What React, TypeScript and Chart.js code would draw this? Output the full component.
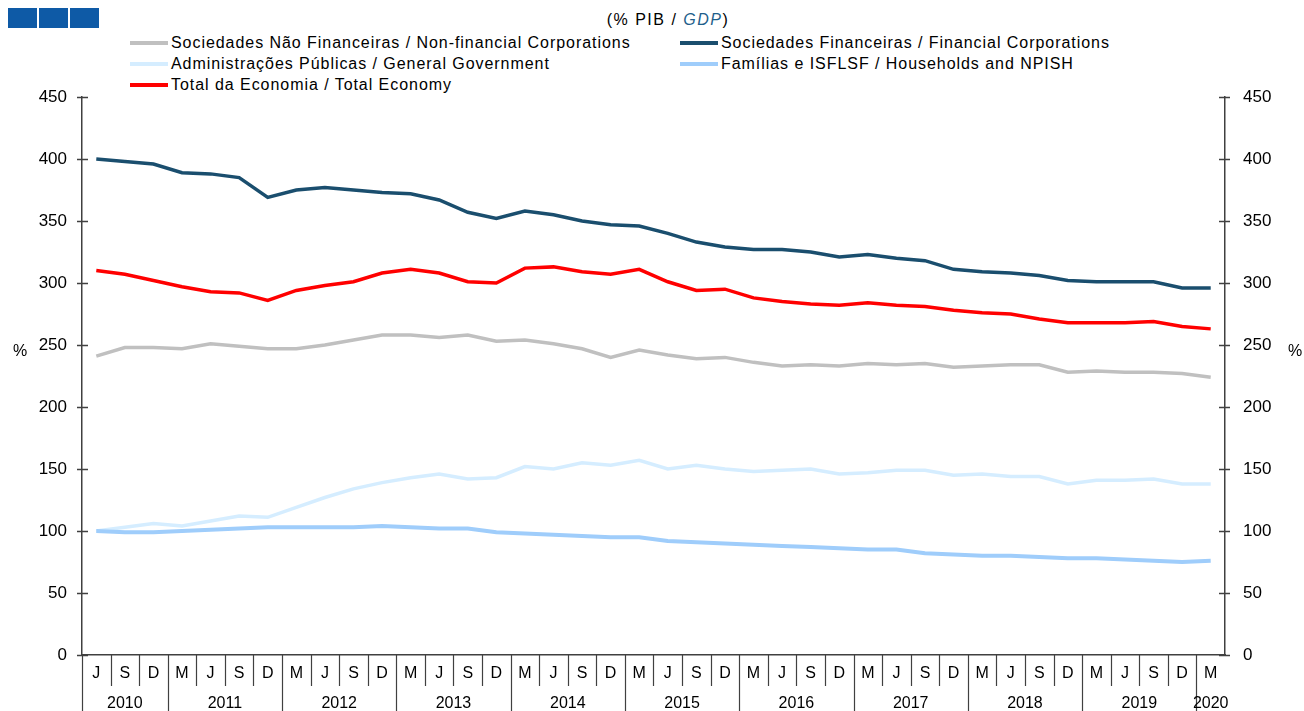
import React, { useEffect, useRef } from "react";
import { Chart, registerables } from "chart.js";

Chart.register(...registerables);

const categories = [
  "J", "S", "D",
  "M", "J", "S", "D",
  "M", "J", "S", "D",
  "M", "J", "S", "D",
  "M", "J", "S", "D",
  "M", "J", "S", "D",
  "M", "J", "S", "D",
  "M", "J", "S", "D",
  "M", "J", "S", "D",
  "M", "J", "S", "D",
  "M",
];

const yearLabels = ["2010", "2011", "2012", "2013", "2014", "2015", "2016", "2017", "2018", "2019", "2020"];

const nonFinancial = [241, 248, 248, 247, 251, 249, 247, 247, 250, 254, 258, 258, 256, 258, 253, 254, 251, 247, 240, 246, 242, 239, 240, 236, 233, 234, 233, 235, 234, 235, 232, 233, 234, 234, 228, 229, 228, 228, 227, 224];
const financial = [400, 398, 396, 389, 388, 385, 369, 375, 377, 375, 373, 372, 367, 357, 352, 358, 355, 350, 347, 346, 340, 333, 329, 327, 327, 325, 321, 323, 320, 318, 311, 309, 308, 306, 302, 301, 301, 301, 296, 296];
const government = [100, 103, 106, 104, 108, 112, 111, 119, 127, 134, 139, 143, 146, 142, 143, 152, 150, 155, 153, 157, 150, 153, 150, 148, 149, 150, 146, 147, 149, 149, 145, 146, 144, 144, 138, 141, 141, 142, 138, 138];
const households = [100, 99, 99, 100, 101, 102, 103, 103, 103, 103, 104, 103, 102, 102, 99, 98, 97, 96, 95, 95, 92, 91, 90, 89, 88, 87, 86, 85, 85, 82, 81, 80, 80, 79, 78, 78, 77, 76, 75, 76];
const totalEconomy = [310, 307, 302, 297, 293, 292, 286, 294, 298, 301, 308, 311, 308, 301, 300, 312, 313, 309, 307, 311, 301, 294, 295, 288, 285, 283, 282, 284, 282, 281, 278, 276, 275, 271, 268, 268, 268, 269, 265, 263];

const yTicks = [0, 50, 100, 150, 200, 250, 300, 350, 400, 450];

const seriesNames = [
  "Sociedades Não Financeiras / Non-financial Corporations",
  "Sociedades Financeiras / Financial Corporations",
  "Administrações Públicas / General Government",
  "Famílias e ISFLSF / Households and NPISH",
  "Total da Economia / Total Economy",
];

const COLORS = {
  nonFin: "#C0C0C0",
  fin: "#1A4E6E",
  gov: "#D5EDFF",
  hh: "#9FCDFB",
  total: "#FF0000",
};

const FONT = '"Liberation Sans", Arial, sans-serif';
const AXIS = "#404040";

const W = 1304;
const H = 711;

const axisPlugin = {
  id: "customAxis",
  afterDraw(chart: any) {
    const ctx = chart.ctx;
    const area = chart.chartArea;
    const x = chart.scales.x;
    const y = chart.scales.y;
    ctx.save();
    ctx.strokeStyle = AXIS;
    ctx.lineWidth = 1.5;
    for (const v of yTicks) {
      const py = Math.round(y.getPixelForValue(v)) + 0.5;
      ctx.beginPath();
      ctx.moveTo(area.left - 5, py);
      ctx.lineTo(area.left + 6, py);
      ctx.moveTo(area.right - 6, py);
      ctx.lineTo(area.right + 5, py);
      ctx.stroke();
    }
    const n = categories.length;
    const half = (x.getPixelForValue(1) - x.getPixelForValue(0)) / 2;
    const bottom = area.bottom;
    ctx.lineWidth = 1.2;
    ctx.font = `16px ${FONT}`;
    ctx.fillStyle = "#000";
    ctx.textAlign = "center";
    ctx.textBaseline = "middle";
    let yearIdx = 0;
    let groupStart = 0;
    const groups: { start: number; end: number; label: string }[] = [];
    for (let i = 0; i < n; i++) {
      const cx = x.getPixelForValue(i);
      const leftB = cx - half;
      const isYearStart = i === 0 || categories[i] === "M";
      if (isYearStart && i > 0) {
        groups.push({ start: groupStart, end: i - 1, label: yearLabels[yearIdx] });
        yearIdx++;
        groupStart = i;
      }
      const lx = Math.round(leftB) + 0.5;
      ctx.beginPath();
      ctx.moveTo(lx, bottom);
      ctx.lineTo(lx, isYearStart ? H : bottom + 31);
      ctx.stroke();
      ctx.fillText(categories[i], cx, bottom + 19);
    }
    groups.push({ start: groupStart, end: n - 1, label: yearLabels[yearIdx] });
    for (const g of groups) {
      const cx = (x.getPixelForValue(g.start) + x.getPixelForValue(g.end)) / 2;
      ctx.fillText(g.label, cx, bottom + 49);
    }
    ctx.fillText("%", 20, y.getPixelForValue(245));
    ctx.fillText("%", 1295, y.getPixelForValue(245));
    ctx.restore();
  },
};

export default function App() {
  const ref = useRef<HTMLCanvasElement>(null);

  useEffect(() => {
    document.body.style.margin = "0";
    const canvas = ref.current;
    if (!canvas) return;
    const mk = (label: string, data: number[], color: string, width: number, order: number) => ({
      label,
      data,
      borderColor: color,
      backgroundColor: color,
      borderWidth: width,
      pointRadius: 0,
      pointHoverRadius: 0,
      tension: 0,
      fill: false,
      order,
    });
    const chart = new Chart(canvas, {
      type: "line",
      data: {
        labels: categories,
        datasets: [
          mk(seriesNames[0], nonFinancial, COLORS.nonFin, 3.5, 5),
          mk(seriesNames[1], financial, COLORS.fin, 3.5, 1),
          mk(seriesNames[2], government, COLORS.gov, 3.5, 4),
          mk(seriesNames[3], households, COLORS.hh, 4, 3),
          mk(seriesNames[4], totalEconomy, COLORS.total, 3.5, 2),
        ],
      },
      options: {
        animation: false,
        responsive: false,
        maintainAspectRatio: false,
        devicePixelRatio: 1,
        layout: { padding: { top: 97, left: 0, right: 0, bottom: 0 } },
        plugins: {
          legend: { display: false },
          title: { display: false },
          tooltip: { enabled: false },
        },
        scales: {
          x: {
            type: "category",
            offset: true,
            grid: { display: false, drawTicks: false },
            ticks: { display: false },
            border: { display: true, color: AXIS, width: 1.5 },
            afterFit: (s: any) => {
              s.height = 56;
            },
          },
          y: {
            position: "left",
            min: 0,
            max: 450,
            ticks: {
              stepSize: 50,
              padding: 15,
              color: "#000",
              font: { family: FONT, size: 17 },
            },
            grid: { display: false, drawTicks: false },
            border: { display: true, color: AXIS, width: 1.5 },
            afterFit: (s: any) => {
              s.width = 82;
            },
          },
          y2: {
            position: "right",
            min: 0,
            max: 450,
            ticks: {
              stepSize: 50,
              padding: 18,
              color: "#000",
              font: { family: FONT, size: 17 },
            },
            grid: { display: false, drawTicks: false },
            border: { display: true, color: AXIS, width: 1.5 },
            afterFit: (s: any) => {
              s.width = 79;
            },
          },
        },
      } as any,
      plugins: [axisPlugin],
    });
    return () => chart.destroy();
  }, []);

  const legendItem = (label: string, color: string, left: number, top: number) => (
    <div
      key={label}
      style={{
        position: "absolute",
        left,
        top,
        display: "flex",
        alignItems: "center",
        whiteSpace: "nowrap",
        fontFamily: FONT,
        fontSize: 16,
        letterSpacing: "0.95px",
        color: "#000",
        lineHeight: "20px",
      }}
    >
      <span style={{ display: "inline-block", width: 38, height: 3.5, background: color, marginRight: 3 }} />
      <span>{label}</span>
    </div>
  );

  return (
    <div style={{ position: "fixed", left: 0, top: 0, width: W, height: H, background: "#fff", overflow: "hidden" }}>
      <div style={{ position: "absolute", left: 8, top: 8, display: "flex", gap: 2 }}>
        <div style={{ width: 29, height: 20, background: "#0E5AA6" }} />
        <div style={{ width: 29, height: 20, background: "#0E5AA6" }} />
        <div style={{ width: 29, height: 20, background: "#0E5AA6" }} />
      </div>
      <div
        style={{
          position: "absolute",
          left: 0,
          width: 1336,
          top: 10,
          textAlign: "center",
          fontFamily: FONT,
          fontSize: 16,
          letterSpacing: "1.5px",
          color: "#000",
          lineHeight: "20px",
        }}
      >
        (% PIB / <i style={{ color: "#1F5F8B" }}>GDP</i>)
      </div>
      {legendItem(seriesNames[0], COLORS.nonFin, 130, 33)}
      {legendItem(seriesNames[1], COLORS.fin, 680, 33)}
      {legendItem(seriesNames[2], COLORS.gov, 130, 54)}
      {legendItem(seriesNames[3], COLORS.hh, 680, 54)}
      {legendItem(seriesNames[4], COLORS.total, 130, 75)}
      <canvas ref={ref} width={W} height={H} style={{ position: "absolute", left: 0, top: 0, width: W, height: H }} />
    </div>
  );
}
